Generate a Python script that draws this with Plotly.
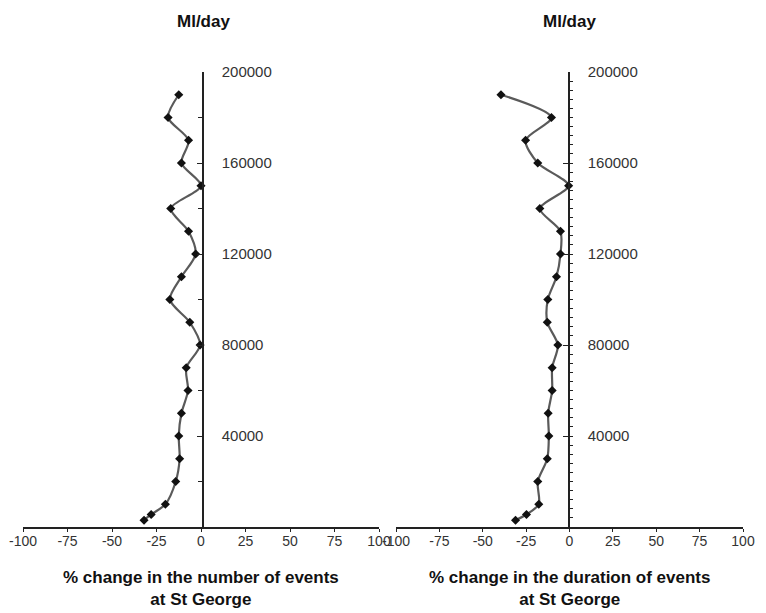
import plotly.graph_objects as go

# Data
flow = [190000, 180000, 170000, 160000, 150000, 140000, 130000, 120000, 110000,
        100000, 90000, 80000, 70000, 60000, 50000, 40000, 30000, 20000, 10000, 5500, 3000]
events_change = [-12.5, -18.5, -7, -11, 0, -17, -7, -3, -11, -17.5, -6.3, -0.5,
                 -8.3, -7.3, -11, -12.5, -12, -14.2, -20, -28, -32]
duration_change = [-39.5, -10.4, -25.3, -18.3, -0.5, -17.1, -5.2, -5.2, -7.5, -12.5,
                   -12.8, -6.7, -10, -10, -12.3, -11.9, -12.8, -18.3, -17.7, -24.8, -31.1]

x_ticks = [-100, -75, -50, -25, 0, 25, 50, 75, 100]
x_ticktext = ["-100", "-75", "-50", "-25", "0", "25", "50", "75", "100"]
y_ticks = [40000, 80000, 120000, 160000, 200000]
y_ticktext = ["40000", "80000", "120000", "160000", "200000"]

y_unit = "Ml/day"
x_title_left = "% change in the number of events<br>at St George"
x_title_right = "% change in the duration of events<br>at St George"

FONT = "Liberation Sans"
OFF = 8  # default page body margin
W, H = 766 - OFF, 613 - OFF
ML, MR, MT, MB = 23 - OFF, 23, 72 - OFF, 86
pw = W - ML - MR
ph = H - MT - MB

def px_x(p):
    return (p - OFF - ML) / pw

def px_y(p):
    return (H - MB - (p - OFF)) / ph

fig = go.Figure()
line_style = dict(color="#5a5a5a", width=2.2, shape="spline", smoothing=0.8)
marker_style = dict(symbol="diamond", size=7, color="#111111")

fig.add_trace(go.Scatter(x=events_change, y=flow, mode="lines+markers",
                         line=line_style, marker=marker_style,
                         xaxis="x", yaxis="y", showlegend=False))
fig.add_trace(go.Scatter(x=duration_change, y=flow, mode="lines+markers",
                         line=line_style, marker=marker_style,
                         xaxis="x2", yaxis="y2", showlegend=False))

xcommon = dict(range=[-100, 100], tickvals=x_ticks, ticktext=x_ticktext,
               showline=True, linecolor="#222", linewidth=1.5,
               ticks="outside", ticklen=3, tickcolor="#222",
               showgrid=False, zeroline=False, automargin=False,
               ticklabelstandoff=-3,
               tickfont=dict(family=FONT, size=14, color="#333"))
ycommon = dict(range=[0, 200000], tickvals=y_ticks, ticktext=y_ticktext,
               anchor="free", side="right", showline=True, linecolor="#222",
               linewidth=1.5, ticks="inside", ticklen=5, tickcolor="#222",
               showgrid=False, zeroline=False, automargin=False,
               ticklabelstandoff=15,
               tickfont=dict(family=FONT, size=15, color="#333"))

lx0, lx1 = px_x(23), px_x(379)
rx0, rx1 = px_x(396), px_x(743)

fig.update_layout(
    width=W, height=H,
    margin=dict(l=ML, r=MR, t=MT, b=MB),
    paper_bgcolor="white", plot_bgcolor="white",
    xaxis=dict(domain=[lx0, lx1], anchor="y", **xcommon),
    xaxis2=dict(domain=[rx0, rx1], anchor="y2", **xcommon),
    yaxis=dict(domain=[0, 1], position=px_x(203),
               minor=dict(dtick=20000, ticks="inside", ticklen=4, tickcolor="#222"),
               **ycommon),
    yaxis2=dict(domain=[0, 1], position=px_x(569),
                minor=dict(dtick=4000, ticks="outside", ticklen=3, tickcolor="#222",
                           tickwidth=1.2),
                **ycommon),
)

title_font = dict(family=FONT, size=17, color="#111")
for xc, txt in [(px_x(203), y_unit), (px_x(569), y_unit)]:
    fig.add_annotation(x=xc, y=px_y(22), xref="paper", yref="paper",
                       text="<b>" + txt + "</b>", showarrow=False,
                       xanchor="center", yanchor="middle", font=title_font)
for xc, txt in [((lx0 + lx1) / 2, x_title_left), ((rx0 + rx1) / 2, x_title_right)]:
    fig.add_annotation(x=xc, y=px_y(566), xref="paper", yref="paper",
                       text="<b>" + txt + "</b>", showarrow=False,
                       xanchor="center", yanchor="top", font=title_font)

fig.write_html("out.html")
